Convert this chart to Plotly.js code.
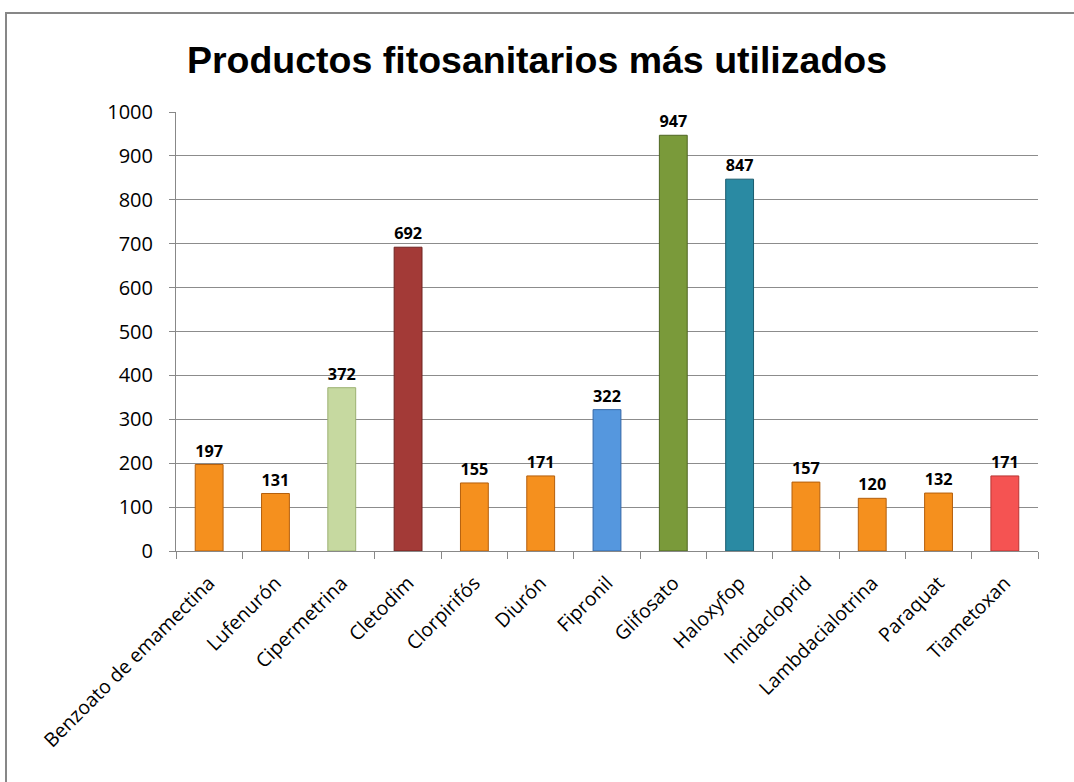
<!DOCTYPE html>
<html><head><meta charset="utf-8">
<script src="https://cdn.plot.ly/plotly-3.0.1.min.js"></script>
<style>
html,body{margin:0;padding:0;background:#fff;}
#wrap{position:relative;width:1074px;height:782px;overflow:hidden;}
#chart{position:absolute;left:0;top:0;width:1074px;height:782px;}
#frame{position:absolute;left:5px;top:12px;width:1100px;height:800px;border:2px solid #878787;box-sizing:border-box;pointer-events:none;}
</style></head>
<body><div id="wrap"><div id="chart"></div><div id="frame"></div></div>
<script>
const categories = ["Benzoato de emamectina","Lufenurón","Cipermetrina","Cletodim","Clorpirifós","Diurón","Fipronil","Glifosato","Haloxyfop","Imidacloprid","Lambdacialotrina","Paraquat","Tiametoxan"];
const values = [197,131,372,692,155,171,322,947,847,157,120,132,171];
const barColors = ["#F5901E","#F5901E","#C6D9A0","#A33A37","#F5901E","#F5901E","#5597DE","#7A9A3A","#2A8AA3","#F5901E","#F5901E","#F5901E","#F55352"];
const edgeColors = ["#B45F0C","#B45F0C","#9CB070","#6E2321","#B45F0C","#B45F0C","#3466A6","#4F6623","#1A5C6E","#B45F0C","#B45F0C","#B45F0C","#B83533"];
const yTicks = [0,100,200,300,400,500,600,700,800,900,1000];

const trace = {
  type:'bar', x:categories, y:values,
  marker:{color:barColors, line:{color:edgeColors, width:1}},
  text:values.map(String), textposition:'outside', cliponaxis:false,
  textfont:{family:'Open Sans, Noto Sans, sans-serif', size:20, color:'#000', weight:'bold'},
  hoverinfo:'none'
};
const layout = {
  width:1074, height:782,
  margin:{l:176, r:36, t:112, b:231},
  paper_bgcolor:'rgba(0,0,0,0)', plot_bgcolor:'rgba(0,0,0,0)',
  bargap:0.58,
  showlegend:false,
  title:{text:'Productos fitosanitarios más utilizados', x:0.5, xanchor:'center', y:0.923, yanchor:'middle',
    font:{family:'Liberation Sans, Arial, sans-serif', size:37.5, color:'#000', weight:'bold'}},
  xaxis:{type:'category', tickangle:-45, ticks:'outside', ticklen:7, tickcolor:'#888', tickson:'boundaries',
    ticklabelstandoff:12,
    showline:true, linecolor:'#888', linewidth:1, showgrid:false,
    tickfont:{family:'Open Sans, Noto Sans, sans-serif', size:19.5, color:'#000'}},
  yaxis:{range:[0,1000], tickvals:yTicks, ticks:'outside', ticklen:6, tickcolor:'#888',
    ticklabelstandoff:12,
    showline:true, linecolor:'#888', linewidth:1, showgrid:true, gridcolor:'#8c8c8c', gridwidth:1,
    zeroline:false,
    tickfont:{family:'Open Sans, Noto Sans, sans-serif', size:20, color:'#000'}}
};
Plotly.newPlot('chart',[trace],layout,{staticPlot:true});
</script></body></html>
